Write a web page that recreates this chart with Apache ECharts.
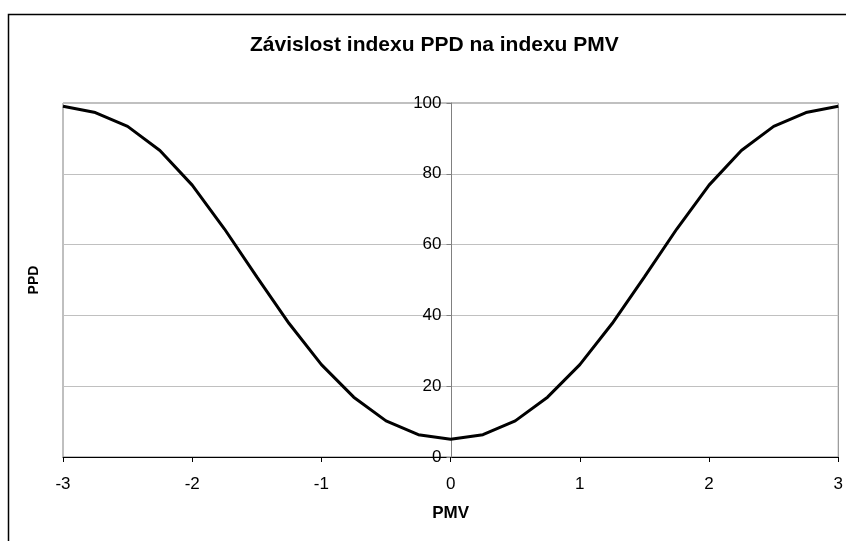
<!DOCTYPE html>
<html>
<head>
<meta charset="utf-8">
<script src="https://cdn.jsdelivr.net/npm/echarts@6/dist/echarts.min.js"></script>
<style>html,body{margin:0;padding:0;background:#fff}#c{width:846px;height:541px}</style>
</head>
<body>
<div id="c"></div>
<script>
var pmv = [-3, -2.75, -2.5, -2.25, -2, -1.75, -1.5, -1.25, -1, -0.75, -0.5, -0.25, 0, 0.25, 0.5, 0.75, 1, 1.25, 1.5, 1.75, 2, 2.25, 2.5, 2.75, 3];
var ppd = [99.1, 97.3, 93.4, 86.6, 76.8, 64.4, 50.9, 37.7, 26.1, 16.9, 10.2, 6.3, 5.0, 6.3, 10.2, 16.9, 26.1, 37.7, 50.9, 64.4, 76.8, 86.6, 93.4, 97.3, 99.1];
var titleText = 'Závislost indexu PPD na indexu PMV';
var xName = 'PMV';
var yName = 'PPD';

var font = 'Liberation Sans, Arial, sans-serif';
var gridLeft = 63, gridRight = 6;
var plotW = 846 - gridLeft - gridRight;
var chart = echarts.init(document.getElementById('c'), null, {renderer: 'canvas'});
chart.setOption({
  animation: false,
  backgroundColor: '#ffffff',
  title: {
    text: titleText,
    left: 245,
    top: 30,
    textStyle: {fontFamily: font, fontSize: 21, fontWeight: 'bold', color: '#000'}
  },
  graphic: [{
    type: 'rect',
    shape: {x: 8.5, y: 14.5, width: 900, height: 600},
    style: {fill: 'none', stroke: '#000', lineWidth: 1.5},
    silent: true
  }],
  grid: {
    left: gridLeft, right: gridRight, top: 103, bottom: 84,
    show: true, borderColor: '#808080', borderWidth: 1, backgroundColor: 'transparent'
  },
  xAxis: {
    type: 'value', min: -3, max: 3, interval: 1,
    name: xName, nameLocation: 'middle', nameGap: 48,
    nameTextStyle: {fontFamily: font, fontSize: 17, fontWeight: 'bold', color: '#000'},
    axisLine: {show: true, onZero: false, lineStyle: {color: '#000', width: 1}},
    axisTick: {show: true, length: 5, lineStyle: {color: '#000'}},
    axisLabel: {fontFamily: font, fontSize: 17, color: '#000', margin: 19},
    splitLine: {show: false}
  },
  yAxis: [{
    type: 'value', min: 0, max: 100, interval: 20,
    position: 'left', offset: -plotW / 2,
    axisLine: {show: true, onZero: false, lineStyle: {color: '#808080', width: 1}},
    axisTick: {show: true, length: 5, lineStyle: {color: '#808080'}},
    axisLabel: {fontFamily: font, fontSize: 17, color: '#000', margin: 10},
    splitLine: {show: true, lineStyle: {color: '#c0c0c0', width: 1}}
  }, {
    type: 'value', min: 0, max: 100, position: 'left', offset: 0,
    name: yName, nameLocation: 'middle', nameGap: 22, nameRotate: 90,
    nameTextStyle: {fontFamily: font, fontSize: 14, fontWeight: 'bold', color: '#000'},
    axisLine: {show: false}, axisTick: {show: false}, axisLabel: {show: false}, splitLine: {show: false}
  }],
  series: [{
    type: 'line',
    data: pmv.map(function (x, i) { return [x, ppd[i]]; }),
    showSymbol: false, symbol: 'none', smooth: false,
    lineStyle: {color: '#000', width: 3},
    z: 5
  }]
});
</script>
</body>
</html>
